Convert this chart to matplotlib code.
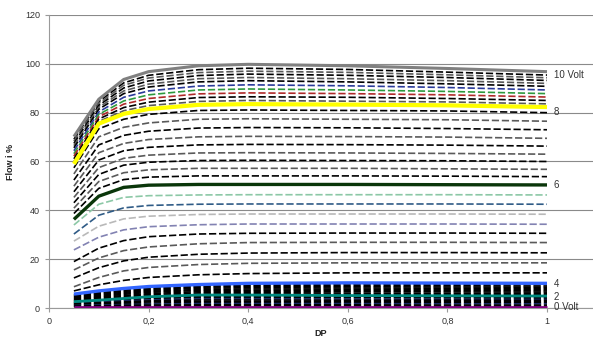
import matplotlib
matplotlib.use("Agg")
import matplotlib.pyplot as plt
from matplotlib.ticker import FixedLocator, FixedFormatter

plt.rcParams["font.family"] = ["Liberation Sans", "DejaVu Sans"]
plt.rcParams["lines.scale_dashes"] = False

# DP sample points shared by every curve
x_dp = [0.05, 0.1, 0.15, 0.2, 0.3, 0.4, 0.6, 0.8, 1.0]

# Highlighted control-voltage curves (flow in %)
curve_10v = [70.2, 85.5, 93.6, 96.8, 99.2, 99.8, 99.2, 98.1, 96.8]
curve_8v = [59.0, 75.5, 79.5, 81.5, 83.2, 83.5, 83.3, 83.0, 82.3]
curve_6v = [36.3, 45.8, 49.4, 50.3, 50.6, 50.6, 50.6, 50.5, 50.4]
curve_4v = [5.7, 7.0, 8.0, 8.8, 9.6, 10.1, 10.3, 10.2, 10.1]
curve_2v = [2.6, 3.2, 3.9, 4.6, 5.3, 5.3, 5.1, 5.0, 4.9]
curve_0v = [0.3, 0.3, 0.3, 0.3, 0.3, 0.3, 0.3, 0.3, 0.3]

# Intermediate voltage steps, top to bottom within each band
band_8_10 = [
    [69.1, 84.5, 92.2, 95.3, 97.6, 98.2, 97.7, 96.6, 95.4],
    [68.3, 83.8, 91.2, 94.2, 96.4, 97.0, 96.5, 95.5, 94.3],
    [67.4, 83.0, 90.1, 93.0, 95.2, 95.8, 95.3, 94.4, 93.2],
    [66.5, 82.2, 88.9, 91.7, 93.9, 94.4, 93.9, 93.1, 92.0],
    [65.6, 81.4, 87.8, 90.5, 92.6, 93.1, 92.6, 91.8, 90.8],
    [64.4, 80.3, 86.3, 88.9, 90.9, 91.4, 91.0, 90.3, 89.3],
    [63.2, 79.3, 84.8, 87.3, 89.3, 89.7, 89.3, 88.7, 87.8],
    [62.2, 78.3, 83.5, 85.8, 87.7, 88.1, 87.8, 87.3, 86.4],
    [61.1, 77.4, 82.1, 84.3, 86.2, 86.5, 86.3, 85.8, 85.0],
    [60.0, 76.4, 80.8, 82.9, 84.6, 85.0, 84.7, 84.4, 83.6],
]
band_6_8 = [
    [57.4, 73.4, 77.3, 79.3, 80.9, 81.1, 80.9, 80.7, 80.0],
    [54.9, 70.1, 74.0, 75.8, 77.3, 77.5, 77.3, 77.1, 76.5],
    [52.4, 66.8, 70.7, 72.4, 73.7, 73.9, 73.8, 73.5, 73.0],
    [49.9, 63.6, 67.4, 69.0, 70.1, 70.3, 70.2, 70.0, 69.5],
    [47.6, 60.6, 64.4, 65.8, 66.8, 67.0, 66.9, 66.7, 66.3],
    [45.3, 57.5, 61.3, 62.6, 63.5, 63.6, 63.5, 63.3, 63.0],
    [43.1, 54.7, 58.5, 59.7, 60.4, 60.5, 60.4, 60.3, 60.0],
    [40.9, 51.8, 55.4, 56.6, 57.2, 57.2, 57.2, 57.0, 56.8],
    [38.7, 49.0, 52.6, 53.6, 54.1, 54.1, 54.1, 54.0, 53.8],
]
band_4_6 = [
    [34.0, 42.5, 45.3, 46.0, 46.3, 46.4, 46.4, 46.4, 46.3],
    [30.3, 38.0, 41.0, 42.0, 42.5, 42.6, 42.6, 42.6, 42.5],
    [27.4, 33.5, 36.5, 37.6, 38.3, 38.5, 38.5, 38.5, 38.4],
    [23.8, 29.0, 32.0, 33.3, 34.1, 34.4, 34.4, 34.4, 34.3],
    [19.0, 24.5, 27.6, 29.2, 30.3, 30.6, 30.7, 30.7, 30.6],
    [15.6, 20.5, 23.5, 25.0, 26.3, 26.8, 26.9, 26.9, 26.8],
    [12.3, 16.5, 19.3, 20.8, 22.0, 22.5, 22.7, 22.7, 22.6],
    [8.7, 12.5, 15.2, 16.6, 17.8, 18.3, 18.5, 18.5, 18.5],
    [7.0, 9.5, 11.3, 12.5, 13.6, 14.1, 14.4, 14.4, 14.4],
]
band_2_4 = [
    [5.4, 6.6, 7.6, 8.4, 9.3, 9.7, 9.8, 9.7, 9.6],
    [5.1, 6.3, 7.2, 8.0, 8.9, 9.2, 9.2, 9.1, 9.0],
    [4.8, 5.9, 6.8, 7.6, 8.5, 8.8, 8.7, 8.6, 8.5],
    [4.5, 5.5, 6.4, 7.2, 8.1, 8.3, 8.2, 8.1, 8.0],
    [4.2, 5.1, 6.0, 6.8, 7.6, 7.8, 7.7, 7.6, 7.5],
    [3.8, 4.7, 5.6, 6.4, 7.2, 7.3, 7.2, 7.1, 7.0],
    [3.5, 4.4, 5.1, 5.9, 6.7, 6.8, 6.7, 6.6, 6.5],
    [3.2, 4.0, 4.7, 5.5, 6.2, 6.3, 6.1, 6.0, 5.9],
    [2.9, 3.6, 4.3, 5.0, 5.7, 5.8, 5.6, 5.5, 5.4],
]
band_0_2 = [
    [2.4, 2.9, 3.5, 4.1, 4.7, 4.8, 4.6, 4.5, 4.4],
    [2.2, 2.7, 3.2, 3.8, 4.3, 4.3, 4.2, 4.1, 4.0],
    [2.0, 2.4, 2.9, 3.3, 3.8, 3.8, 3.7, 3.6, 3.5],
    [1.8, 2.1, 2.5, 2.9, 3.3, 3.3, 3.2, 3.2, 3.1],
    [1.5, 1.8, 2.1, 2.5, 2.8, 2.8, 2.7, 2.7, 2.6],
    [1.3, 1.5, 1.8, 2.0, 2.3, 2.3, 2.2, 2.2, 2.1],
    [1.0, 1.2, 1.4, 1.6, 1.8, 1.8, 1.8, 1.7, 1.7],
    [0.8, 0.9, 1.1, 1.2, 1.3, 1.3, 1.3, 1.2, 1.2],
    [0.5, 0.6, 0.7, 0.8, 0.9, 0.9, 0.9, 0.8, 0.8],
]

# End-of-line labels
end_labels = ["10 Volt", "8", "6", "4", "2", "0 Volt"]
end_label_y = [95.6, 80.4, 50.2, 9.9, 4.6, 0.4]

x_ticks = [0, 0.2, 0.4, 0.6, 0.8, 1.0]
x_tick_labels = ["0", "0,2", "0,4", "0,6", "0,8", "1"]
y_ticks = [0, 20, 40, 60, 80, 100, 120]

# Line colours for the dashed curves
K, G = "#000000", "#5a5a5a"
colors_8_10 = [K, G, K, G, K, "#2a3a9a", "#2e9a3e", "#b02a2a", K, G]
colors_6_8 = [K, G, K, G, K, G, K, G, K]
colors_4_6 = ["#8cc8a6", "#2f5b86", "#b9b9b9", "#8282b2", K, G, K, G, K]
colors_2_4 = [K] * 9
colors_0_2 = [K, K, "#1a2a6a", K, K, K, "#1a2a6a", K, K]

fig = plt.figure(figsize=(5.93, 3.42), dpi=100)
ax = fig.add_axes([49 / 593, 34 / 342, 544 / 593, 293 / 342])

dash = (0, (5.2, 2.0))
for band, cols in [(band_0_2, colors_0_2), (band_2_4, colors_2_4),
                   (band_4_6, colors_4_6), (band_6_8, colors_6_8),
                   (band_8_10, colors_8_10)]:
    for row, c in zip(band, cols):
        ax.plot(x_dp, row, color=c, lw=1.2, linestyle=dash, zorder=2)

highlight = [
    (curve_0v, "#800080", 2.0),
    (curve_2v, "#008a80", 2.0),
    (curve_4v, "#3366ff", 2.4),
    (curve_6v, "#0a360a", 2.4),
    (curve_8v, "#ffff00", 3.0),
    (curve_10v, "#808080", 2.2),
]
for vals, c, lw in highlight:
    ax.plot(x_dp, vals, color=c, lw=lw, solid_capstyle="butt", zorder=3)

for txt, yv in zip(end_labels, end_label_y):
    ax.text(1.014, yv, txt, fontsize=7, color="#333333", va="center", ha="left")

ax.set_xlim(0, 544 / 498)
ax.set_ylim(0, 120)
ax.xaxis.set_major_locator(FixedLocator(x_ticks))
ax.xaxis.set_major_formatter(FixedFormatter(x_tick_labels))
ax.set_yticks(y_ticks)

ax.grid(axis="y", color="#8a8a8a", lw=0.8, zorder=0)
ax.set_axisbelow(True)
for side in ["top", "right"]:
    ax.spines[side].set_visible(False)
ax.spines["left"].set_color("#9a9a9a")
ax.spines["bottom"].set_color("#9a9a9a")
ax.spines["left"].set_linewidth(0.8)
ax.spines["bottom"].set_linewidth(0.8)
ax.tick_params(axis="both", labelsize=6.5, colors="#9a9a9a", labelcolor="#333333",
               length=3, width=0.8)

ax.set_xlabel("DP", fontsize=6.5, fontweight="bold", color="#222222", labelpad=2)
ax.set_ylabel("Flow i %", fontsize=6.5, fontweight="bold", color="#222222", labelpad=7)

fig.savefig("out.png", dpi=100)
